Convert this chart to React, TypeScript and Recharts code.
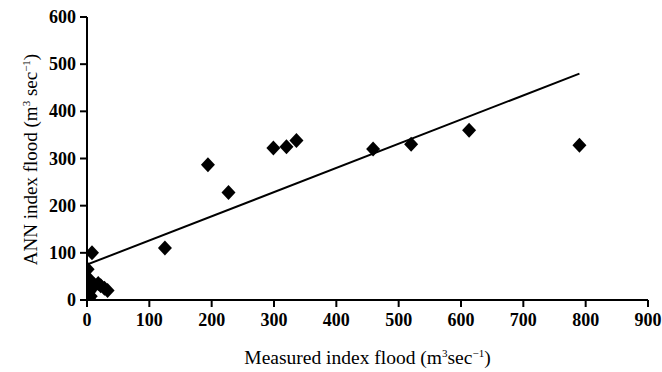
import React from 'react';
import { ScatterChart, Scatter, XAxis, YAxis, Label } from 'recharts';

const measured = [790, 613, 520, 459, 336, 320, 299, 227, 194, 125, 8, 1, 3, 2, 5, 8, 12, 18, 22, 28, 33, 4, 2, 6, 3];
const predicted = [328, 360, 330, 320, 338, 325, 322, 228, 287, 110, 100, 65, 45, 38, 30, 25, 32, 35, 30, 25, 20, 18, 10, 8, 3];
const trendX = [0, 790];
const trendY = [75, 480];
const xTicks = [0, 100, 200, 300, 400, 500, 600, 700, 800, 900];
const yTicks = [0, 100, 200, 300, 400, 500, 600];

const points = measured.map((x, i) => ({ x, y: predicted[i] }));
const trend = trendX.map((x, i) => ({ x, y: trendY[i] }));

const FONT = '"Liberation Serif", "Times New Roman", serif';

const Diamond = (props: any) => {
  const { cx, cy } = props;
  if (cx == null || cy == null) return <g />;
  const w = 7;
  const h = 7.5;
  return (
    <polygon
      points={`${cx},${cy - h} ${cx + w},${cy} ${cx},${cy + h} ${cx - w},${cy}`}
      fill="#000"
    />
  );
};

const XTick = (props: any) => {
  const { x, y, payload } = props;
  return (
    <text x={x} y={y + 17} textAnchor="middle" fontFamily={FONT} fontSize={18} fontWeight={700} fill="#000">
      {payload.value}
    </text>
  );
};

const YTick = (props: any) => {
  const { x, y, payload } = props;
  return (
    <text x={x} y={y + 6} textAnchor="end" fontFamily={FONT} fontSize={18} fontWeight={700} fill="#000">
      {payload.value}
    </text>
  );
};

const XLabel = (props: any) => {
  const vb = props.viewBox || {};
  const cx = vb.x + vb.width / 2;
  return (
    <text x={cx} y={364} textAnchor="middle" fontFamily={FONT} fontSize={19.5} fill="#000">
      Measured index flood (m
      <tspan dy={-7} fontSize={11}>3</tspan>
      <tspan dy={7}>sec</tspan>
      <tspan dy={-7} fontSize={11}>−1</tspan>
      <tspan dy={7}>)</tspan>
    </text>
  );
};

const YLabel = (props: any) => {
  const vb = props.viewBox || {};
  const cy = vb.y + vb.height / 2 + 1;
  const cx = 37;
  return (
    <text
      x={cx}
      y={cy}
      textAnchor="middle"
      fontFamily={FONT}
      fontSize={19}
      fill="#000"
      transform={`rotate(-90, ${cx}, ${cy})`}
    >
      ANN index flood (m
      <tspan dy={-7} fontSize={11}>3</tspan>
      <tspan dy={7}> sec</tspan>
      <tspan dy={-7} fontSize={11}>−1</tspan>
      <tspan dy={7}>)</tspan>
    </text>
  );
};

export default function App() {
  return (
    <div style={{ position: 'absolute', left: 0, top: 0, width: 662, height: 372, background: '#fff' }}>
      <ScatterChart width={662} height={372} margin={{ top: 17, right: 14, bottom: 0, left: 0 }}>
        <XAxis
          type="number"
          dataKey="x"
          domain={[0, 900]}
          ticks={xTicks}
          interval={0}
          height={72}
          tick={<XTick />}
          tickSize={7}
          tickMargin={2}
          axisLine={{ stroke: '#000', strokeWidth: 2 }}
          tickLine={{ stroke: '#000', strokeWidth: 2 }}
          allowDataOverflow
        >
          <Label content={<XLabel />} />
        </XAxis>
        <YAxis
          type="number"
          dataKey="y"
          domain={[0, 600]}
          ticks={yTicks}
          interval={0}
          width={87}
          tick={<YTick />}
          tickSize={7}
          tickMargin={4}
          axisLine={{ stroke: '#000', strokeWidth: 2 }}
          tickLine={{ stroke: '#000', strokeWidth: 2 }}
          allowDataOverflow
        >
          <Label content={<YLabel />} />
        </YAxis>
        <Scatter
          data={trend}
          line={{ stroke: '#000', strokeWidth: 2 }}
          shape={() => <g />}
          isAnimationActive={false}
          legendType="none"
        />
        <Scatter data={points} shape={<Diamond />} isAnimationActive={false} />
      </ScatterChart>
    </div>
  );
}
